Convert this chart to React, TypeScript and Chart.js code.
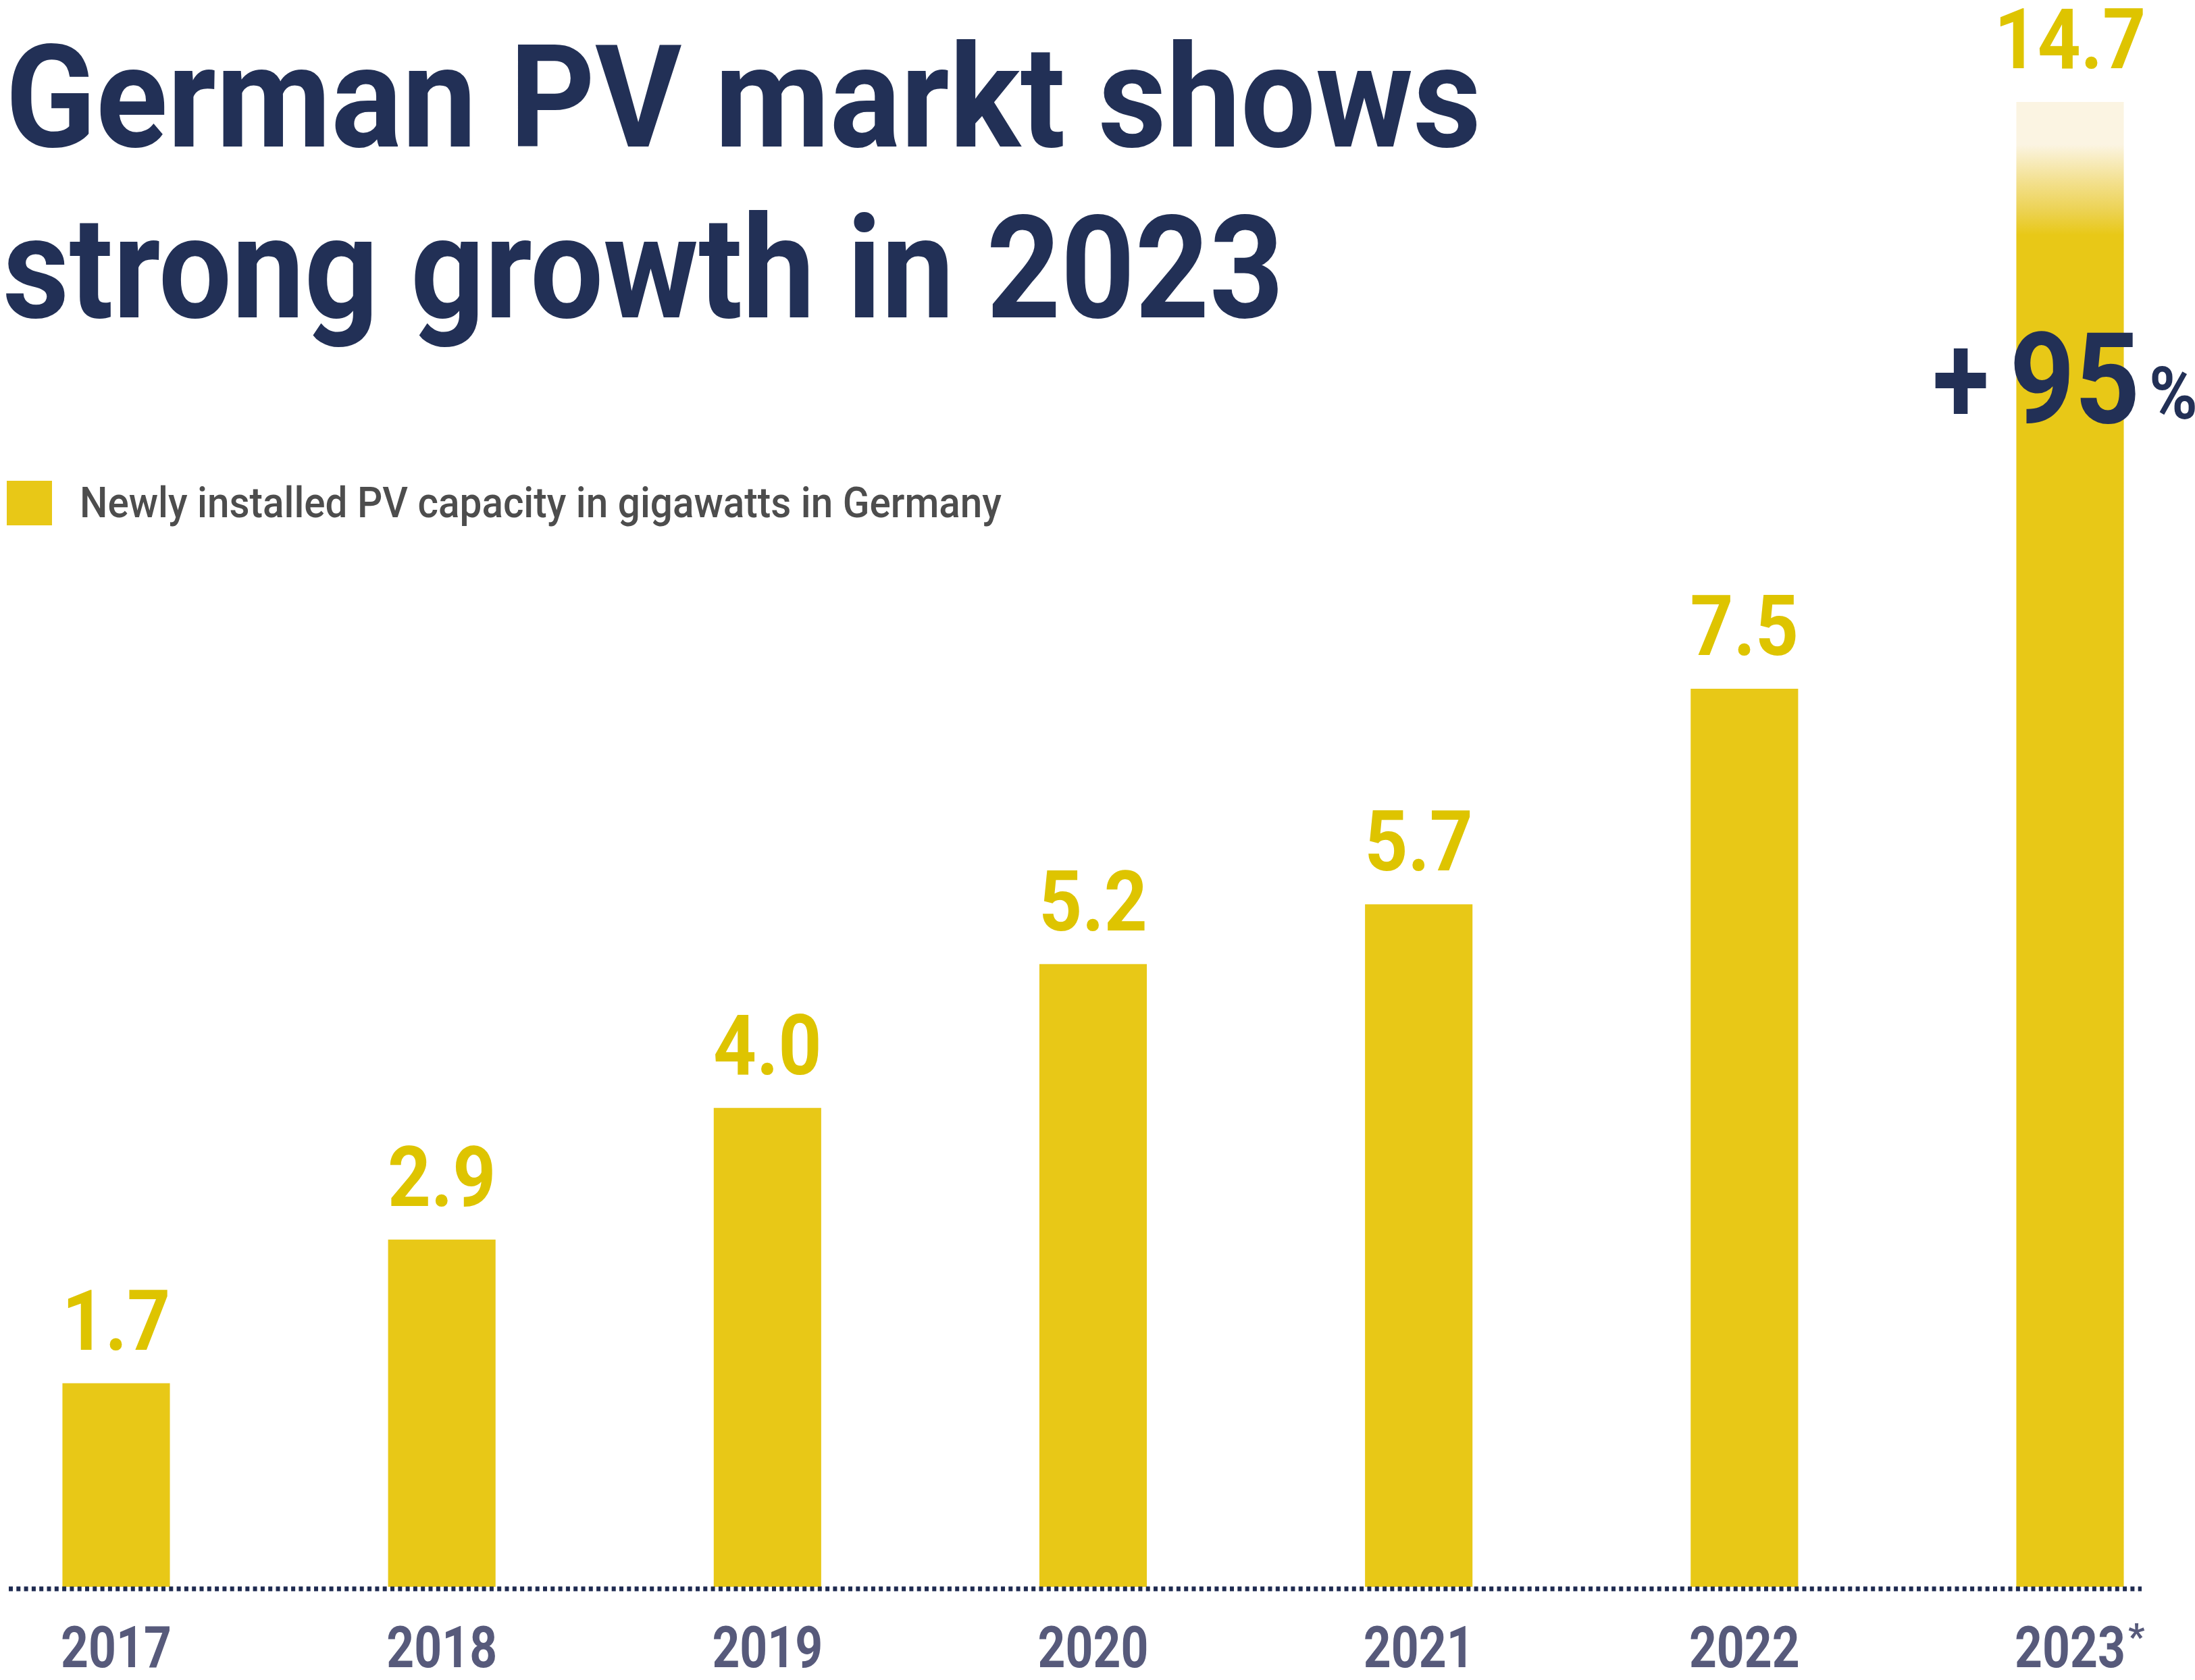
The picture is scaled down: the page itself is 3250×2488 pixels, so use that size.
import React, { useEffect, useLayoutEffect, useRef } from 'react';
import { Chart, registerables } from 'chart.js';

Chart.register(...registerables);

// ---- data ----
const categories = ['2017', '2018', '2019', '2020', '2021', '2022', '2023'];
const capacityGW = [1.7, 2.9, 4.0, 5.2, 5.7, 7.5, 14.7];
const footnoteMarks = ['', '', '', '', '', '', '*'];
const growthText = ['+', '95', '%'];
const titleLines = ['German PV markt shows', 'strong growth in 2023'];
const legendLabel = 'Newly installed PV capacity in gigawatts in Germany';
const yAxisMax = 12.4;

// ---- styles ----
const BAR = '#E8C817';
const LABEL = '#DEC400';
const NAVY = '#223056';
const TICK = '#575A7B';
const DOT = '#1E2A50';
const CREAM = '#FBF4E2';
const ROBOTO = 'Roboto, "Noto Sans", sans-serif';

function drawScaled(ctx: CanvasRenderingContext2D, text: string, x: number, y: number, font: string, sx: number, align: CanvasTextAlign) {
  ctx.save();
  ctx.font = font;
  ctx.textAlign = align;
  ctx.textBaseline = 'alphabetic';
  ctx.translate(x, y);
  ctx.scale(sx, 1);
  ctx.fillText(text, 0, 0);
  const w = ctx.measureText(text).width * sx;
  ctx.restore();
  return w;
}

const decorPlugin = {
  id: 'decor',
  afterDatasetsDraw(chart: any) {
    const ctx: CanvasRenderingContext2D = chart.ctx;
    const area = chart.chartArea;
    const yScale = chart.scales.y;
    const xScale = chart.scales.x;
    const meta = chart.getDatasetMeta(0);
    const y0 = yScale.getPixelForValue(0);

    // dotted baseline
    ctx.save();
    ctx.strokeStyle = DOT;
    ctx.lineWidth = 7;
    ctx.setLineDash([6, 5.3]);
    ctx.beginPath();
    ctx.moveTo(area.left - 159, y0 + 3);
    ctx.lineTo(area.right + 106, y0 + 3);
    ctx.stroke();
    ctx.restore();

    // category labels from the x scale (condensed bold)
    ctx.save();
    ctx.fillStyle = TICK;
    xScale.ticks.forEach((t: any, i: number) => {
      const x = xScale.getPixelForTick(i);
      const label = String(xScale.getLabelForValue(t.value));
      const w = drawScaled(ctx, label, x, y0 + 119, `bold 85px ${ROBOTO}`, 0.84, 'center');
      if (footnoteMarks[i]) {
        drawScaled(ctx, footnoteMarks[i], x + w / 2 + 4, y0 + 92, `bold 54px ${ROBOTO}`, 1, 'left');
      }
    });
    ctx.restore();

    // value labels
    ctx.save();
    ctx.fillStyle = LABEL;
    meta.data.forEach((bar: any, i: number) => {
      const top = Math.max(bar.y, area.top);
      drawScaled(ctx, capacityGW[i].toFixed(1), bar.x, top - 50, `bold 124px ${ROBOTO}`, 0.9, 'center');
    });
    ctx.restore();

    // growth annotation on last bar
    const last = meta.data[meta.data.length - 1];
    ctx.save();
    ctx.fillStyle = NAVY;
    drawScaled(ctx, growthText[1], last.x + 7, 626, `bold 187px ${ROBOTO}`, 0.9, 'center');
    drawScaled(ctx, growthText[0], last.x - 120, 626, `bold 187px ${ROBOTO}`, 0.82, 'right');
    drawScaled(ctx, growthText[2], last.x + 117, 620, `bold 108px ${ROBOTO}`, 0.9, 'left');
    ctx.restore();
  },
};

function FitText({ text, width, style }: { text: string; width: number; style: React.CSSProperties }) {
  const ref = useRef<HTMLSpanElement>(null);
  useLayoutEffect(() => {
    const el = ref.current;
    if (!el) return;
    el.style.transform = 'none';
    const w = el.offsetWidth;
    if (w > 0) el.style.transform = `scaleX(${width / w})`;
  }, [text, width]);
  return (
    <span
      ref={ref}
      style={{ ...style, position: 'absolute', whiteSpace: 'nowrap', display: 'inline-block', transformOrigin: 'left top' }}
    >
      {text}
    </span>
  );
}

export default function App() {
  const canvasRef = useRef<HTMLCanvasElement>(null);

  useEffect(() => {
    const canvas = canvasRef.current;
    if (!canvas) return;
    const chart = new Chart(canvas, {
      type: 'bar',
      data: {
        labels: categories,
        datasets: [
          {
            label: legendLabel,
            data: capacityGW,
            backgroundColor: (c: any) => {
              const v = capacityGW[c.dataIndex];
              const area = c.chart.chartArea;
              if (v <= yAxisMax || !area) return BAR;
              const g = c.chart.ctx.createLinearGradient(0, area.top, 0, area.top + 197);
              g.addColorStop(0, CREAM);
              g.addColorStop(0.32, CREAM);
              g.addColorStop(0.6, '#F3E08E');
              g.addColorStop(0.82, '#ECD252');
              g.addColorStop(1, BAR);
              return g;
            },
            borderWidth: 0,
            barPercentage: 1,
            categoryPercentage: 0.33,
            clip: { left: false, right: false, top: 0, bottom: false },
          } as any,
        ],
      },
      options: {
        responsive: false,
        animation: false,
        devicePixelRatio: 1,
        layout: { padding: { left: 172, right: 185, top: 151, bottom: 0 } },
        plugins: {
          legend: { display: false },
          title: { display: false },
          tooltip: { enabled: false },
        },
        scales: {
          x: {
            offset: false,
            grid: { display: false, drawTicks: false },
            border: { display: false },
            ticks: { display: false, autoSkip: false },
            afterFit: (s: any) => {
              s.height = 138;
            },
          },
          y: { display: false, min: 0, max: yAxisMax },
        },
      } as any,
      plugins: [decorPlugin],
    });
    return () => chart.destroy();
  }, []);

  const titleStyle: React.CSSProperties = {
    fontFamily: ROBOTO,
    fontWeight: 700,
    fontSize: 211,
    lineHeight: '211px',
    color: NAVY,
    left: 8,
  };

  return (
    <div style={{ position: 'absolute', left: 0, top: 0, width: 3250, height: 2488, background: '#fff', overflow: 'hidden' }}>
      <canvas ref={canvasRef} width={3250} height={2488} style={{ position: 'absolute', left: 0, top: 0, width: 3250, height: 2488 }} />
      <FitText text={titleLines[0]} width={2185} style={{ ...titleStyle, top: 40 }} />
      <FitText text={titleLines[1]} width={1897} style={{ ...titleStyle, top: 293, left: 4 }} />
      <div style={{ position: 'absolute', left: 10, top: 712, width: 67, height: 66, background: BAR }} />
      <FitText
        text={legendLabel}
        width={1365}
        style={{ fontFamily: ROBOTO, fontWeight: 500, fontSize: 63, lineHeight: '63px', color: '#4D4D4D', left: 118, top: 713 }}
      />
    </div>
  );
}
